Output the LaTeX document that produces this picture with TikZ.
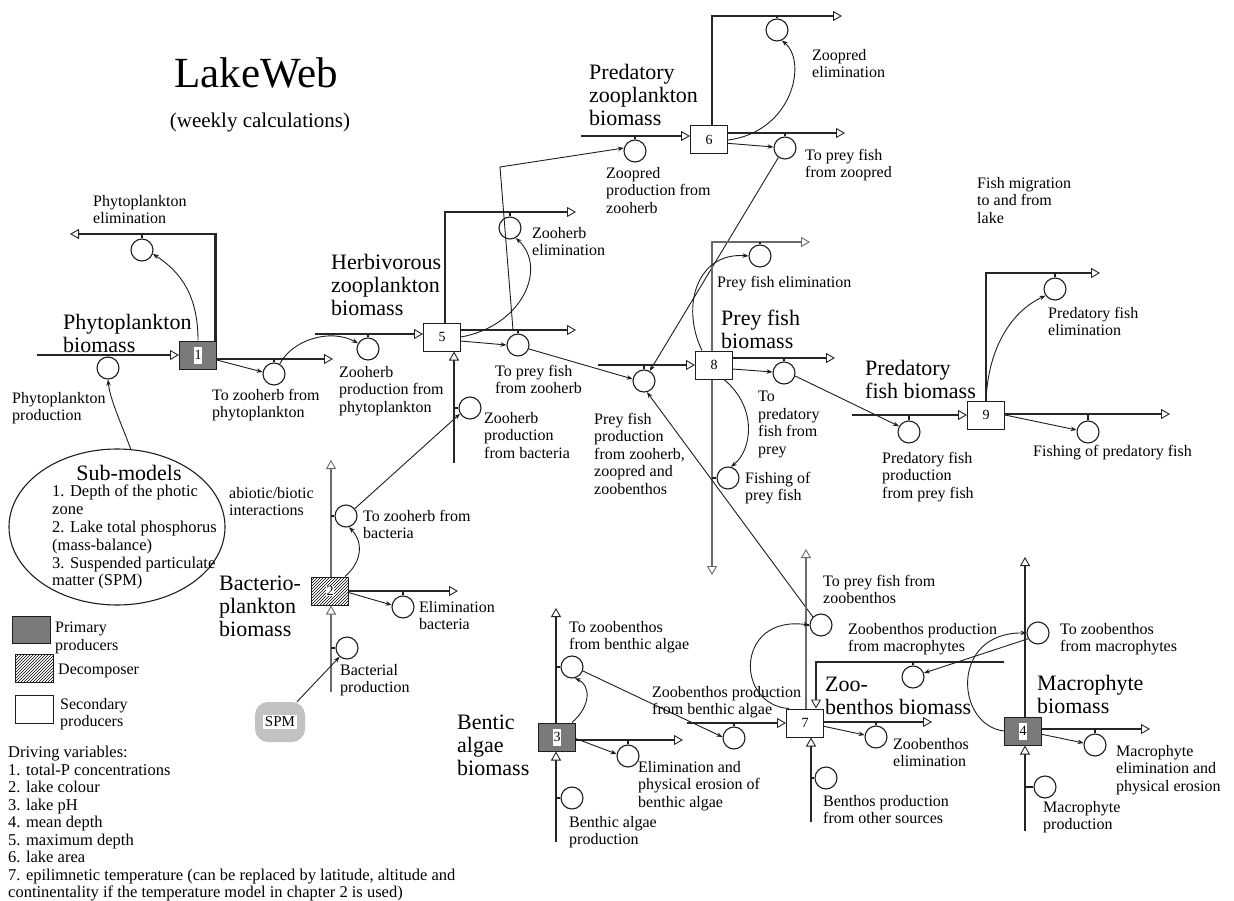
\documentclass[tikz,border=0pt]{standalone}
\usepackage{fontspec}
\setmainfont{Liberation Serif}
\usetikzlibrary{arrows.meta,shapes.geometric,patterns}
\definecolor{pipedark}{HTML}{262626}
\definecolor{pipegray}{HTML}{6A6A6A}
\definecolor{stockgray}{HTML}{7A7A7A}
\definecolor{spmgray}{HTML}{C2C2C2}
\definecolor{inkline}{HTML}{1E1E1E}
\begin{document}
\begin{tikzpicture}[x=1pt,y=-1pt,
  pipe/.style={line width=2.9pt,draw=pipedark,line join=miter,-{Triangle[length=9pt,width=10pt,line width=0.9pt,fill=white]}},
  graypipe/.style={pipe,draw=pipegray},
  valve/.style={circle,draw=inkline,line width=1.1pt,minimum size=22pt,inner sep=0pt,fill=white},
  tick/.style={line width=1.4pt,draw=inkline},
  link/.style={line width=0.9pt,draw=inkline,-{Stealth[length=6pt,width=4.5pt]}},
  stock/.style={rectangle,draw=inkline,line width=1pt,minimum width=37pt,minimum height=28pt,inner sep=0pt,fill=white,font=\fontsize{14}{16}\selectfont},
  prim/.style={stock,fill=stockgray},
  decomp/.style={stock,pattern=north east lines},
  numtag/.style={fill=white,inner sep=0.8pt,minimum height=17pt,font=\fontsize{14}{16}\selectfont},
  lab/.style={anchor=north west,inner sep=0pt,align=left,font=\fontsize{16}{17.5}\selectfont},
  big/.style={anchor=north west,inner sep=0pt,align=left,font=\fontsize{22}{23}\selectfont},
]
\useasboundingbox (0,0) rectangle (1234,901);
\fill[white] (0,0) rectangle (1234,901);

% ---------- title ----------
\node[font=\fontsize{43}{46}\selectfont] (title) at (256,73) {LakeWeb};
\node[font=\fontsize{21}{24}\selectfont] (subtitle) at (260,122) {(weekly calculations)};

% ---------- stocks ----------
\node[prim] (b1) at (198,355) {}; \node[numtag] (b1n) at (b1) {1};
\node[stock] (b5) at (442,337) {5};
\node[stock] (b6) at (709,140) {6};
\node[stock] (b8) at (714,365) {8};
\node[stock] (b9) at (986,415) {9};
\node[decomp] (b2) at (330,591) {}; \node[numtag,minimum height=0pt] (b2n) at (b2) {2};
\node[prim] (b3) at (557,737) {}; \node[numtag] (b3n) at (b3) {3};
\node[stock] (b7) at (805,723) {7};
\node[prim] (b4) at (1023,731) {}; \node[numtag] (b4n) at (b4) {4};

% ---------- valves ----------
\node[valve] (vPP)   at (108,368) {};
\node[valve] (vPE)   at (142,250) {};
\node[valve] (vTZP)  at (274,374) {};
\node[valve] (vZPP)  at (368,349) {};
\node[valve] (vZPB)  at (470,408) {};
\node[valve] (vZE)   at (510,228) {};
\node[valve] (vTPZ)  at (518,345) {};
\node[valve] (vZoP)  at (635,151) {};
\node[valve] (vZoE)  at (777,30) {};
\node[valve] (vTPZo) at (785,148) {};
\node[valve] (vPFP)  at (644,381) {};
\node[valve] (vPFE)  at (760,256) {};
\node[valve] (vFPF)  at (728,478) {};
\node[valve] (vTPF)  at (784,373) {};
\node[valve] (vPdP)  at (909,432) {};
\node[valve] (vPdE)  at (1055,289) {};
\node[valve] (vFPd)  at (1088,432) {};
\node[valve] (vTZB)  at (346,516) {};
\node[valve] (vEB)   at (403,607) {};
\node[valve] (vBP)   at (347,648) {};
\node[valve] (vTZA)  at (572,667) {};
\node[valve] (vEA)   at (628,756) {};
\node[valve] (vBAP)  at (572,798) {};
\node[valve] (vZPA)  at (734,738) {};
\node[valve] (vTPZb) at (821,625) {};
\node[valve] (vBPO)  at (826,778) {};
\node[valve] (vZbE)  at (876,737) {};
\node[valve] (vZPM)  at (913,677) {};
\node[valve] (vTZM)  at (1038,633) {};
\node[valve] (vMEl)  at (1095,745) {};
\node[valve] (vMP)   at (1045,787) {};

% SPM source
\node[fill=spmgray,rounded corners=13pt,minimum width=50pt,minimum height=40pt] (spm) at (280,722) {};
\node[fill=white,inner sep=1.5pt,font=\fontsize{15}{17}\selectfont] (spmt) at (spm) {SPM};

% Sub-models ellipse
\node[ellipse,draw=inkline,line width=1.1pt,minimum width=216pt,minimum height=156pt,inner sep=0pt] (sm) at (117,527) {};
\node[font=\fontsize{22}{24}\selectfont] (smt) at (129,473) {Sub-models};
\node[anchor=north west,inner sep=0pt,align=left,font=\fontsize{16.5}{17.8}\selectfont] (sml) at (52,485)
  {1. Depth of the photic\\zone\\2. Lake total phosphorus\\(mass-balance)\\3. Suspended particulate\\matter (SPM)};

% ---------- phytoplankton flows ----------
\coordinate (p1in) at (37,355);
\draw[pipe] (p1in) -- (p1in -| b1.west);
\draw[tick] (vPP.north) -- (vPP.north |- p1in);
\coordinate (p1el) at (70,234);
\draw[pipe] ([xshift=-1.5pt]b1.north east) |- (p1el);
\draw[tick] (vPE.north) -- (vPE.north |- p1el);
\coordinate (p1out) at (333,359);
\draw[pipe] (p1out -| b1.east) -- (p1out);
\draw[tick] (vTZP.north) -- (vTZP.north |- p1out);
\draw[link] (b1.north) .. controls +(0,-45) and +(28,18) .. (vPE.-20);
\draw[link] (b1.-15) -- (vTZP.170);
\draw[link] (vTZP.60) .. controls (292,340) and (330,328) .. (vZPP.150);
\draw[link] (sm.80) .. controls (122,425) and (110,400) .. (vPP.south);

% ---------- herbivorous zooplankton flows ----------
\coordinate (p5in) at (315,334);
\draw[pipe] (p5in) -- (p5in -| b5.west);
\draw[tick] (vZPP.north) -- (vZPP.north |- p5in);
\coordinate (p5bot) at (454,463);
\draw[pipe] (p5bot) -- (p5bot |- b5.south);
\draw[tick] (vZPB.west) -- (vZPB.west -| p5bot);
\coordinate (p5el) at (576,212);
\draw[pipe] ([xshift=3pt]b5.north) |- (p5el);
\draw[tick] (vZE.north) -- (vZE.north |- p5el);
\coordinate (p5out) at (576,330);
\draw[pipe] (p5out -| b5.east) -- (p5out);
\draw[tick] (vTPZ.north) -- (vTPZ.north |- p5out);
\draw[link] (b5.east) .. controls (522,326) and (548,268) .. (vZE.-60);
\draw[link] (b5.-12) -- (vTPZ.west);
\draw[link] (vTPZ.-20) -- (vPFP.170);
\coordinate (zhtap) at (513,330);
\coordinate (k1) at (500,167);
\draw[link] (zhtap) -- (k1) -- (vZoP.165);

% ---------- predatory zooplankton flows ----------
\coordinate (p6in) at (581,136);
\draw[pipe] (p6in) -- (p6in -| b6.west);
\draw[tick] (vZoP.north) -- (vZoP.north |- p6in);
\coordinate (p6el) at (842,16);
\draw[pipe] ([xshift=3pt]b6.north) |- (p6el);
\draw[tick] (vZoE.north) -- (vZoE.north |- p6el);
\coordinate (p6out) at (845,133);
\draw[pipe] (p6out -| b6.east) -- (p6out);
\draw[tick] (vTPZo.north) -- (vTPZo.north |- p6out);
\draw[link] (b6.east) .. controls (792,132) and (808,62) .. (vZoE.-65);
\draw[link] (b6.-10) -- (vTPZo.175);
\draw[link] (vTPZo.-125) -- (vPFP.60);

% ---------- prey fish flows ----------
\coordinate (p8in) at (598,365);
\draw[pipe] (p8in) -- (p8in -| b8.west);
\draw[tick] (vPFP.north) -- (vPFP.north |- p8in);
\coordinate (p8el) at (810,242);
\draw[graypipe] ([xshift=-2pt]b8.north) |- (p8el);
\draw[tick] (vPFE.north) -- (vPFE.north |- p8el);
\coordinate (p8fish) at (712,575);
\draw[graypipe] (p8fish |- b8.south) -- (p8fish);
\draw[tick] (vFPF.west) -- (vFPF.west -| p8fish);
\coordinate (p8out) at (835,358);
\draw[pipe] (p8out -| b8.east) -- (p8out);
\draw[tick] (vTPF.north) -- (vTPF.north |- p8out);
\draw[link] ([xshift=7pt]b8.north west) .. controls (680,305) and (698,252) .. (vPFE.west);
\draw[link] ([xshift=10pt]b8.south) .. controls (758,408) and (752,450) .. (vFPF.75);
\draw[link] (b8.-12) -- (vTPF.175);
\draw[link] (vTPF.-15) -- (vPdP.150);
\draw[link] (vTPZb.135) -- (vPFP.-75);

% ---------- predatory fish flows ----------
\coordinate (p9in) at (852,415);
\draw[pipe] (p9in) -- (p9in -| b9.west);
\draw[tick] (vPdP.north) -- (vPdP.north |- p9in);
\coordinate (p9el) at (1100,273);
\draw[pipe] (b9.north) |- (p9el);
\draw[tick] (vPdE.north) -- (vPdE.north |- p9el);
\coordinate (p9out) at (1170,414);
\draw[pipe] (p9out -| b9.east) -- (p9out);
\draw[tick] (vFPd.north) -- (vFPd.north |- p9out);
\draw[link] (b9.north) .. controls (988,350) and (1010,312) .. (vPdE.-145);
\draw[link] (b9.east) -- (vFPd.170);

% ---------- bacterioplankton flows ----------
\coordinate (p2up) at (331,460);
\draw[graypipe] (p2up |- b2.north) -- (p2up);
\coordinate (p2bot) at (331,692);
\draw[graypipe] (p2bot) -- (p2bot |- b2.south);
\draw[tick] (vTZB.west) -- (vTZB.west -| p2up);
\draw[tick] (vBP.west) -- (vBP.west -| p2bot);
\coordinate (p2out) at (458,591);
\draw[pipe] (p2out -| b2.east) -- (p2out);
\draw[tick] (vEB.north) -- (vEB.north |- p2out);
\draw[link] ([xshift=-4pt]b2.north east) .. controls (364,560) and (362,540) .. (vTZB.-75);
\draw[link] (vTZB.40) -- (vZPB.-150);
\draw[link] (b2.-5) -- (vEB.170);
\draw[link] (spm.50) -- (vBP.-130);

% ---------- benthic algae flows ----------
\coordinate (p3up) at (556,608);
\draw[pipe] (p3up |- b3.north) -- (p3up);
\coordinate (p3bot) at (556,842);
\draw[pipe] (p3bot) -- (p3bot |- b3.south);
\draw[tick] (vTZA.west) -- (vTZA.west -| p3up);
\draw[tick] (vBAP.west) -- (vBAP.west -| p3bot);
\coordinate (p3out) at (683,740);
\draw[pipe] (p3out -| b3.east) -- (p3out);
\draw[tick] (vEA.north) -- (vEA.north |- p3out);
\draw[link] ([xshift=-4pt]b3.north east) .. controls (592,705) and (590,685) .. (vTZA.-75);
\draw[link] (vTZA.-20) -- (vZPA.175);
\draw[link] (b3.-5) -- (vEA.170);

% ---------- zoobenthos flows ----------
\coordinate (p7in) at (687,723);
\draw[pipe] (p7in) -- (p7in -| b7.west);
\draw[tick] (vZPA.north) -- (vZPA.north |- p7in);
\coordinate (p7up) at (806,549);
\draw[graypipe] (p7up |- b7.north) -- (p7up);
\draw[tick] (vTPZb.west) -- (vTPZb.west -| p7up);
\coordinate (p7bot) at (811,822);
\draw[pipe] (p7bot) -- (p7bot |- b7.south);
\draw[tick] (vBPO.west) -- (vBPO.west -| p7bot);
\coordinate (p7out) at (932,722);
\draw[pipe] (p7out -| b7.east) -- (p7out);
\draw[tick] (vZbE.north) -- (vZbE.north |- p7out);
\coordinate (p7m) at (1004,662);
\coordinate (p7mc) at (816,662);
\draw[pipe] (p7m) -- (p7mc) -- (p7mc |- b7.north);
\draw[tick] (vZPM.north) -- (vZPM.north |- p7m);
\draw[link] ([xshift=3pt]b7.north west) .. controls (735,705) and (735,615) .. (vTPZb.west);
\draw[link] (b7.-10) -- (vZbE.170);
\draw[link] (vTZM.-150) -- (vZPM.20);

% ---------- macrophyte flows ----------
\coordinate (p4up) at (1025,557);
\draw[pipe] (p4up |- b4.north) -- (p4up);
\coordinate (p4bot) at (1025,831);
\draw[pipe] (p4bot) -- (p4bot |- b4.south);
\draw[tick] (vTZM.west) -- (vTZM.west -| p4up);
\draw[tick] (vMP.west) -- (vMP.west -| p4bot);
\coordinate (p4out) at (1150,729);
\draw[pipe] (p4out -| b4.east) -- (p4out);
\draw[tick] (vMEl.north) -- (vMEl.north |- p4out);
\draw[link] (b4.west) .. controls (955,725) and (950,632) .. (vTZM.west);
\draw[link] (b4.-10) -- (vMEl.170);

% ---------- stock names ----------
\node[big] (n1) at (63,314) {Phytoplankton\\biomass};
\node[big] (n5) at (331,254) {Herbivorous\\zooplankton\\biomass};
\node[big] (n6) at (589,64) {Predatory\\zooplankton\\biomass};
\node[big] (n8) at (721,310) {Prey fish\\biomass};
\node[big] (n9) at (865,360) {Predatory\\fish biomass};
\node[big] (n2) at (219,576) {Bacterio-\\plankton\\biomass};
\node[big] (n3) at (457,715) {Bentic\\algae\\biomass};
\node[big] (n7) at (825,677) {Zoo-\\benthos biomass};
\node[big] (n4) at (1037,675) {Macrophyte\\biomass};

% ---------- flow names ----------
\node[lab] (l1) at (93,195) {Phytoplankton\\elimination};
\node[lab] (l2) at (12,392) {Phytoplankton\\production};
\node[lab] (l3) at (212,389) {To zooherb from\\phytoplankton};
\node[lab] (l4) at (339,366) {Zooherb\\production from\\phytoplankton};
\node[lab] (l5) at (484,412) {Zooherb\\production\\from bacteria};
\node[lab] (l6) at (532,227) {Zooherb\\elimination};
\node[lab] (l7) at (495,365) {To prey fish\\from zooherb};
\node[lab] (l8) at (606,167) {Zoopred\\production from\\zooherb};
\node[lab] (l9) at (812,49) {Zoopred\\elimination};
\node[lab] (l10) at (805,149) {To prey fish\\from zoopred};
\node[lab] (l11) at (717,276) {Prey fish elimination};
\node[lab] (l12) at (594,413) {Prey fish\\production\\from zooherb,\\zoopred and\\zoobenthos};
\node[lab] (l13) at (758,391) {To\\predatory\\fish from\\prey};
\node[lab] (l14) at (745,472) {Fishing of\\prey fish};
\node[lab] (l15) at (977,177) {Fish migration\\to and from\\lake};
\node[lab] (l16) at (1048,307) {Predatory fish\\elimination};
\node[lab] (l17) at (882,452) {Predatory fish\\production\\from prey fish};
\node[lab] (l18) at (1033,445) {Fishing of predatory fish};
\node[lab] (l19) at (229,487) {abiotic/biotic\\interactions};
\node[lab] (l20) at (363,510) {To zooherb from\\bacteria};
\node[lab] (l21) at (419,601) {Elimination\\bacteria};
\node[lab] (l22) at (340,664) {Bacterial\\production};
\node[lab] (l23) at (569,621) {To zoobenthos\\from benthic algae};
\node[lab] (l24) at (638,761) {Elimination and\\physical erosion of\\benthic algae};
\node[lab] (l25) at (569,816) {Benthic algae\\production};
\node[lab] (l26) at (652,686) {Zoobenthos production\\from benthic algae};
\node[lab] (l27) at (823,575) {To prey fish from\\zoobenthos};
\node[lab] (l28) at (848,623) {Zoobenthos production\\from macrophytes};
\node[lab] (l29) at (1060,623) {To zoobenthos\\from macrophytes};
\node[lab] (l30) at (893,738) {Zoobenthos\\elimination};
\node[lab] (l31) at (823,795) {Benthos production\\from other sources};
\node[lab] (l32) at (1116,745) {Macrophyte\\elimination and\\physical erosion};
\node[lab] (l33) at (1043,801) {Macrophyte\\production};

% ---------- legend ----------
\node[prim,minimum width=38pt,minimum height=27pt] (lg1) at (31,630) {};
\node[decomp,minimum width=38pt,minimum height=28pt] (lg2) at (34,668) {};
\node[stock,minimum width=38pt,minimum height=28pt] (lg3) at (34,709) {};
\node[lab] (lt1) at (55,622) {Primary\\producers};
\node[lab] (lt2) at (58,664) {Decomposer};
\node[lab] (lt3) at (60,698) {Secondary\\producers};

\node[anchor=north west,inner sep=0pt,align=left,font=\fontsize{16.5}{17.5}\selectfont] (drv) at (8,746)
  {Driving variables:\\1. total-P concentrations\\2. lake colour\\3. lake pH\\4. mean depth\\5. maximum depth\\6. lake area\\7. epilimnetic temperature (can be replaced by latitude, altitude and\\continentality if the temperature model in chapter 2 is used)};
\end{tikzpicture}
\end{document}
